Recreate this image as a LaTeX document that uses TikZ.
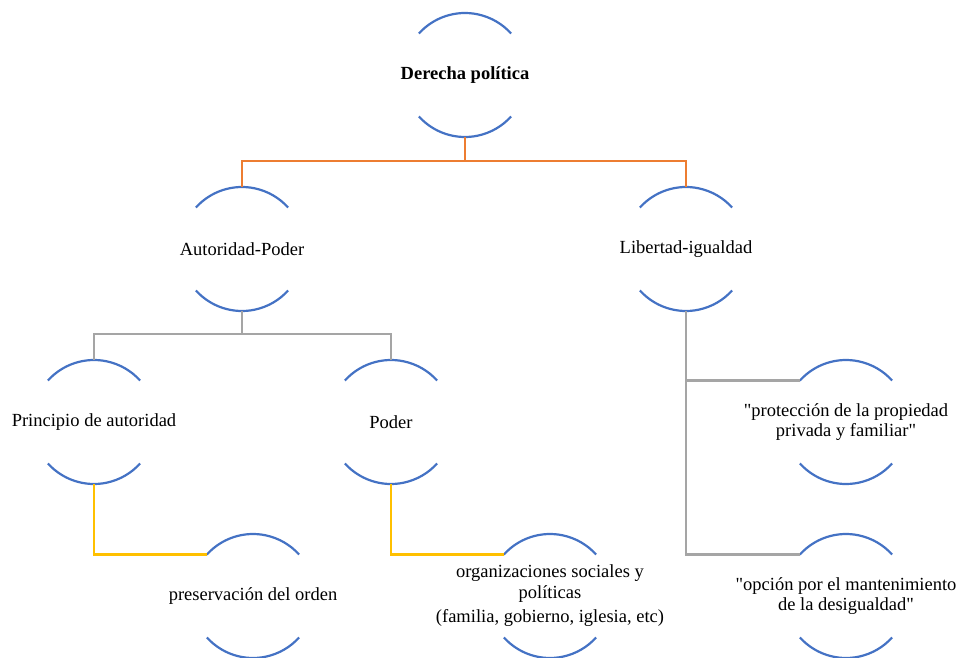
\documentclass[tikz,border=0pt]{standalone}
\usepackage{fontspec}
\setmainfont{Liberation Serif}[Ligatures=TeXOff]
\definecolor{cblue}{HTML}{4472C4}
\definecolor{corange}{HTML}{ED7D31}
\definecolor{cgrey}{HTML}{A5A5A5}
\definecolor{cyellow}{HTML}{FFC000}
\tikzset{
  bub/.style={circle, minimum size=124pt, inner sep=0pt, outer sep=0pt},
  txt/.style={align=center, inner sep=0pt, font=\fontsize{18.5}{20.5}\selectfont},
  arcline/.style={draw=cblue, line width=2.2pt},
  link/.style={draw=#1, line width=2.4pt},
  link/.default=cgrey,
}

\begin{document}
\begin{tikzpicture}[x=1pt, y=1pt]
  \useasboundingbox (0,0) rectangle (959,-658);
  \node[bub, label={[txt]center:\textbf{Derecha política}}] (root) at (465,-75) {};
  \node[bub, label={[txt]center:Autoridad-Poder}] (autpod) at (242,-249) {};
  \node[bub, label={[txt]center:Libertad-igualdad}] (libig) at (686,-249) {};
  \node[bub, label={[txt]center:Principio de autoridad}] (princ) at (94,-422) {};
  \node[bub, label={[txt]center:Poder}] (poder) at (391,-422) {};
  \node[bub, label={[txt]center:preservación del orden}] (orden) at (253,-596) {};
  \node[bub, label={[txt]center:{organizaciones sociales y\\políticas\\[4pt](familia, gobierno, iglesia, etc)}}] (org) at (550,-596) {};
  \node[bub, label={[txt]center:{"protección de la propiedad\\privada y familiar"}}] (prop) at (846,-422) {};
  \node[bub, label={[txt]center:{"opción por el mantenimiento\\de la desigualdad"}}] (desig) at (846,-596) {};
  \foreach \n in {root, autpod, libig, princ, poder, orden, org, prop, desig} {
    \draw[arcline] (\n.138) arc[start angle=138, end angle=42, radius=62];
    \draw[arcline] (\n.222) arc[start angle=222, end angle=318, radius=62];
  }
  \draw[link=corange] (root.south) -- ++(0,-24) -| (autpod.north);
  \draw[link=corange] (root.south) -- ++(0,-24) -| (libig.north);
  \draw[link] (autpod.south) -- ++(0,-23) -| (princ.north);
  \draw[link] (autpod.south) -- ++(0,-23) -| (poder.north);
  \draw[link=cyellow] (princ.south) |- (orden.138);
  \draw[link=cyellow] (poder.south) |- (org.138);
  \draw[link] (libig.south) |- (prop.138);
  \draw[link] (libig.south) |- (desig.138);
\end{tikzpicture}
\end{document}
